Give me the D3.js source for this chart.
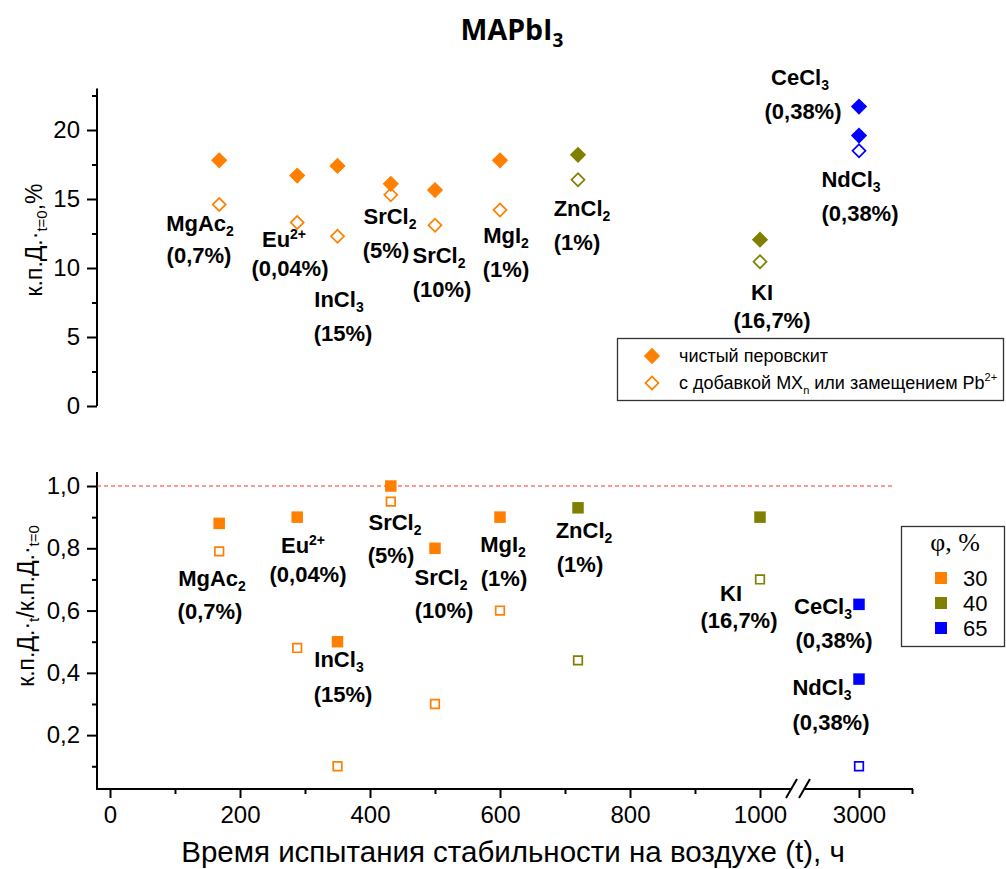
<!DOCTYPE html>
<html>
<head>
<meta charset="utf-8">
<script src="https://cdn.jsdelivr.net/npm/d3@7"></script>
<style>
  html, body { margin: 0; padding: 0; background: #fff; }
  svg { display: block; }
</style>
</head>
<body>
<svg id="chart" width="1006" height="869" font-family="'Liberation Sans', Arial, sans-serif"></svg>
<script>
// ---- data ----
const additives = ["MgAc_2", "Eu^2+", "InCl_3", "SrCl_2", "SrCl_2", "MgI_2", "ZnCl_2", "KI", "CeCl_3", "NdCl_3"];
const dopingLevels = ["(0,7%)", "(0,04%)", "(15%)", "(5%)", "(10%)", "(1%)", "(1%)", "(16,7%)", "(0,38%)", "(0,38%)"];
const testHours = [168, 288, 350, 432, 500, 600, 720, 1000, 3000, 3000];
const humidity = [30, 30, 30, 30, 30, 30, 40, 40, 65, 65];
// initial PCE, %
const pcePure = [17.8, 16.7, 17.4, 16.1, 15.65, 17.8, 18.2, 12.05, 21.7, 19.6];
const pceModified = [14.6, 13.3, 12.3, 15.3, 13.1, 14.2, 16.4, 10.45, null, 18.5];
// retained fraction of initial PCE after the test
const ratioPure = [0.88, 0.90, 0.50, 1.00, 0.80, 0.90, 0.93, 0.90, 0.62, 0.38];
const ratioModified = [0.79, 0.48, 0.10, 0.95, 0.30, 0.60, 0.44, 0.70, null, 0.10];

const humidityLevels = [30, 40, 65];
const xMajorTicks = [0, 200, 400, 600, 800, 1000, 3000];
const xMinorTicks = [100, 300, 500, 700, 900, 3100];
const yTopMajor = [0, 5, 10, 15, 20];
const yTopMinor = [2.5, 7.5, 12.5, 17.5, 22.5];
const yBotMajor = [0.2, 0.4, 0.6, 0.8, 1.0];
const yBotMinor = [0.1, 0.3, 0.5, 0.7, 0.9];
const referenceRatio = 1.0;

// ---- annotation placement (centre x, baseline y) ----
const topNamePos = [[200,231],[284,247],[339,307],[390,224],[439,263],[506,243],[582,216],[762,300],[800,85],[851,187]];
const topPctPos  = [[199,263],[290,276],[343,341],[386,258],[442,297],[506,277],[577,250],[772,328],[803,119],[860,221]];
const botNamePos = [[212,586],[303,553],[339,667],[395,530],[441,585],[503,552],[584,538],[731,601],[823,614],[822,695]];
const botPctPos  = [[210,619],[308,582],[343,702],[391,563],[444,618],[504,586],[580,572],[739,628],[834,648],[831,730]];

const colour = d3.scaleOrdinal().domain(humidityLevels).range(["#FF7F00", "#808000", "#0000FF"]);

const svg = d3.select("#chart");

// scales: broken time axis (0–1000 h, then 3000 h)
const x = d3.scaleLinear().domain([-20, 1000, 2900, 3100]).range([97, 760, 806, 912]);
const yTop = d3.scaleLinear().domain([0, 23]).range([406, 88.6]);
const yBot = d3.scaleLinear().domain([0.027, 1.045]).range([789, 472]);

const fmtComma = d => d3.format(".1f")(d).replace(".", ",");

// rich text helper: "_" subscript, "^" superscript
function richText(sel, str, subSize, subShift) {
  const m = str.match(/^([^_^]*)([_^])(.*)$/);
  if (!m) { sel.append("tspan").text(str); return; }
  sel.append("tspan").text(m[1]);
  const up = m[2] === "^";
  sel.append("tspan").attr("font-size", subSize)
    .attr("dy", up ? -subShift * 1.6 : subShift).text(m[3]);
}

// ---- title ----
const title = svg.append("text").attr("x", 512).attr("y", 40)
  .attr("text-anchor", "middle").attr("font-family", "'Open Sans', sans-serif")
  .attr("font-weight", "bold").attr("font-size", 28.5);
title.append("tspan").text("MAPbI");
title.append("tspan").attr("font-size", 19).attr("dy", 7).text("3");

// ---- axes ----
function yAxis(scale, major, minor, fmt, domainTop, domainBottom) {
  const g = svg.append("g").attr("transform", "translate(97,0)");
  g.append("g").call(d3.axisLeft(scale).tickValues(major).tickSize(10).tickPadding(7).tickFormat(fmt))
    .call(a => a.select(".domain").remove())
    .call(a => a.attr("font-family", null))
    .call(a => a.selectAll(".tick line").attr("stroke", "#000").attr("stroke-width", 2))
    .call(a => a.selectAll(".tick text").attr("font-size", 24).attr("fill", "#000"));
  g.append("g").call(d3.axisLeft(scale).tickValues(minor).tickSize(5).tickFormat(""))
    .call(a => a.select(".domain").remove())
    .call(a => a.selectAll(".tick line").attr("stroke", "#000").attr("stroke-width", 2));
  g.append("line").attr("x1", 0).attr("x2", 0)
    .attr("y1", domainTop).attr("y2", domainBottom)
    .attr("stroke", "#000").attr("stroke-width", 2);
}
yAxis(yTop, yTopMajor, yTopMinor, d3.format("d"), yTop.range()[1], yTop.range()[0]);
yAxis(yBot, yBotMajor, yBotMinor, fmtComma, yBot.range()[1], yBot.range()[0] + 1);

// x axis on the lower panel, with a break between 1000 and 3000 h
const xg = svg.append("g").attr("transform", `translate(0,${yBot.range()[0]})`);
xg.append("g").call(d3.axisBottom(x).tickValues(xMajorTicks).tickSize(9).tickPadding(8).tickFormat(d3.format("d")))
  .call(a => a.select(".domain").remove())
  .call(a => a.attr("font-family", null))
  .call(a => a.selectAll(".tick line").attr("stroke", "#000").attr("stroke-width", 2))
  .call(a => a.selectAll(".tick text").attr("font-size", 24).attr("fill", "#000"));
xg.append("g").call(d3.axisBottom(x).tickValues(xMinorTicks).tickSize(5).tickFormat(""))
  .call(a => a.select(".domain").remove())
  .call(a => a.selectAll(".tick line").attr("stroke", "#000").attr("stroke-width", 2));
const bx1 = x(1000) + 31, bx2 = x(1000) + 45;
xg.append("line").attr("x1", x.range()[0] - 1).attr("x2", bx1).attr("y1", 0).attr("y2", 0).attr("stroke", "#000").attr("stroke-width", 2);
xg.append("line").attr("x1", bx2).attr("x2", x.range()[3] + 1).attr("y1", 0).attr("y2", 0).attr("stroke", "#000").attr("stroke-width", 2);
[bx1, bx1 + 13].forEach(bx => {
  xg.append("line").attr("x1", bx - 5).attr("y1", 9).attr("x2", bx + 6).attr("y2", -10)
    .attr("stroke", "#000").attr("stroke-width", 2);
});

// reference line at full retention
svg.append("line")
  .attr("x1", x.range()[0]).attr("x2", x(3066))
  .attr("y1", yBot(referenceRatio)).attr("y2", yBot(referenceRatio))
  .attr("stroke", "#FF3030").attr("stroke-width", 1.2).attr("stroke-dasharray", "4,3");

// ---- axis titles ----
svg.append("text").attr("x", 513).attr("y", 862).attr("text-anchor", "middle")
  .attr("font-size", 29.5).text("Время испытания стабильности на воздухе (t), ч");

const yt1 = svg.append("text").attr("transform", "translate(42,240) rotate(-90)")
  .attr("text-anchor", "middle").attr("font-size", 23);
yt1.append("tspan").text("к.п.Д.·");
yt1.append("tspan").attr("font-size", 15).attr("dy", 5).text("t=0");
yt1.append("tspan").attr("dy", -5).text(",%");

const yt2 = svg.append("text").attr("transform", "translate(34,606) rotate(-90)")
  .attr("text-anchor", "middle").attr("font-size", 23);
yt2.append("tspan").text("к.п.Д.·");
yt2.append("tspan").attr("font-size", 15).attr("dy", 5).text("t");
yt2.append("tspan").attr("dy", -5).text("/к.п.Д.·");
yt2.append("tspan").attr("font-size", 15).attr("dy", 5).text("t=0");

// ---- markers ----
const idx = d3.range(additives.length);
const squarePath = side => d3.symbol().type(d3.symbolSquare).size(side * side)();

const topG = svg.append("g");
topG.selectAll("path.open").data(idx.filter(i => pceModified[i] != null)).join("path")
  .attr("class", "open")
  .attr("d", squarePath(9.2))
  .attr("transform", i => `translate(${x(testHours[i])},${yTop(pceModified[i])}) rotate(45)`)
  .attr("fill", "#fff").attr("stroke", i => colour(humidity[i])).attr("stroke-width", 1.7);
topG.selectAll("path.filled").data(idx).join("path")
  .attr("class", "filled")
  .attr("d", squarePath(11.5))
  .attr("transform", i => `translate(${x(testHours[i])},${yTop(pcePure[i])}) rotate(45)`)
  .attr("fill", i => colour(humidity[i]));

const botG = svg.append("g");
botG.selectAll("path.open").data(idx.filter(i => ratioModified[i] != null)).join("path")
  .attr("class", "open")
  .attr("d", squarePath(8.6))
  .attr("transform", i => `translate(${x(testHours[i])},${yBot(ratioModified[i])})`)
  .attr("fill", "#fff").attr("stroke", i => colour(humidity[i])).attr("stroke-width", 1.7);
botG.selectAll("path.filled").data(idx).join("path")
  .attr("class", "filled")
  .attr("d", squarePath(11.5))
  .attr("transform", i => `translate(${x(testHours[i])},${yBot(ratioPure[i])})`)
  .attr("fill", i => colour(humidity[i]));

// ---- compound labels ----
function labels(namePos, pctPos) {
  const g = svg.append("g").attr("font-weight", "bold").attr("font-size", 22).attr("text-anchor", "middle");
  idx.forEach(i => {
    const t = g.append("text").attr("x", namePos[i][0]).attr("y", namePos[i][1]);
    richText(t, additives[i], 14, 5);
    g.append("text").attr("x", pctPos[i][0]).attr("y", pctPos[i][1]).text(dopingLevels[i]);
  });
}
labels(topNamePos, topPctPos);
labels(botNamePos, botPctPos);

// ---- legend: film type ----
const lg1 = svg.append("g");
lg1.append("rect").attr("x", 617.5).attr("y", 338.5).attr("width", 386).attr("height", 62)
  .attr("fill", "#fff").attr("stroke", "#333").attr("stroke-width", 1.3);
lg1.append("path").attr("d", squarePath(11.5)).attr("transform", "translate(652,356) rotate(45)").attr("fill", colour(30));
lg1.append("path").attr("d", squarePath(9.2)).attr("transform", "translate(652,383) rotate(45)")
  .attr("fill", "#fff").attr("stroke", colour(30)).attr("stroke-width", 1.7);
lg1.append("text").attr("x", 679).attr("y", 362).attr("font-size", 18).text("чистый перовскит");
const lt2 = lg1.append("text").attr("x", 679).attr("y", 389).attr("font-size", 18);
lt2.append("tspan").text("с добавкой MX");
lt2.append("tspan").attr("font-size", 11).attr("dy", 5).text("n");
lt2.append("tspan").attr("dy", -5).text(" или замещением Pb");
lt2.append("tspan").attr("font-size", 11).attr("dy", -8).text("2+");

// ---- legend: relative humidity ----
const lg2 = svg.append("g");
lg2.append("rect").attr("x", 901.5).attr("y", 526.5).attr("width", 103).attr("height", 120)
  .attr("fill", "#fff").attr("stroke", "#333").attr("stroke-width", 1.3);
lg2.append("text").attr("x", 955).attr("y", 551).attr("text-anchor", "middle")
  .attr("font-family", "'Liberation Serif', 'Times New Roman', serif").attr("font-size", 26).text("φ, %");
humidityLevels.forEach((h, k) => {
  const cy = 578 + k * 25;
  lg2.append("rect").attr("x", 935).attr("y", cy - 6).attr("width", 12).attr("height", 12).attr("fill", colour(h));
  lg2.append("text").attr("x", 963).attr("y", cy + 8).attr("font-size", 22).text(h);
});
</script>
</body>
</html>
